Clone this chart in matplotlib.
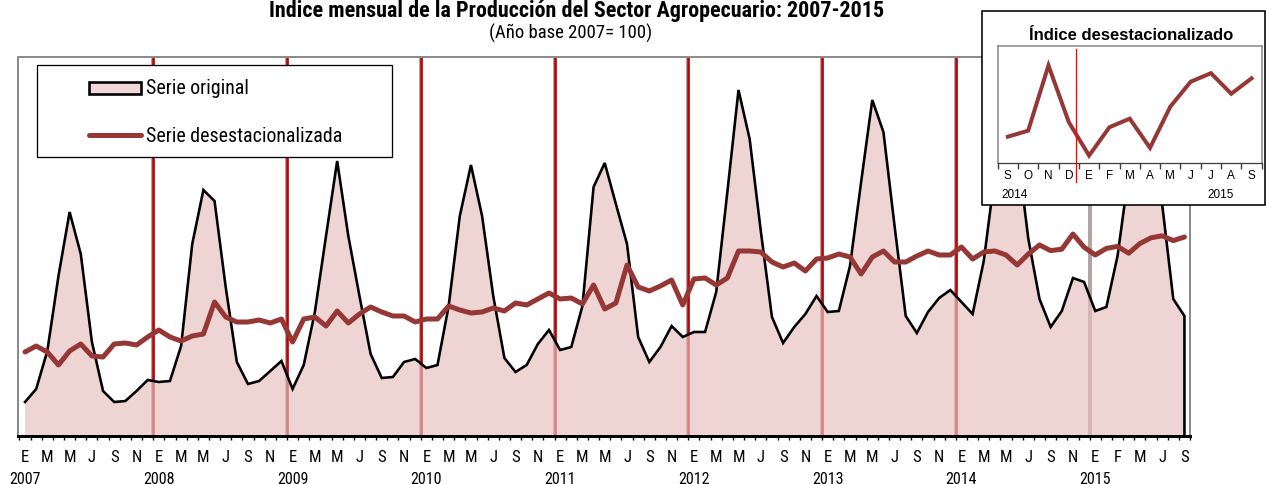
import matplotlib
matplotlib.use('Agg')
import matplotlib.pyplot as plt
from matplotlib.patches import Rectangle
from matplotlib.lines import Line2D
import matplotlib.transforms as mtransforms
import numpy as np

# ---------------- data ----------------
years = [2007, 2008, 2009, 2010, 2011, 2012, 2013, 2014, 2015]
month_labels_full = ['E', 'M', 'M', 'J', 'S', 'N']
month_labels_2015 = ['E', 'F', 'M', 'J', 'S']

# Serie original (Jan 2007 - Sep 2015)
original = [
    77.0, 83.5, 102.5, 140.0, 172.0, 151.0, 107.0, 82.5, 77.0, 77.5, 82.5, 88.0,      # 2007
    87.0, 87.5, 105.0, 156.0, 183.0, 177.5, 134.5, 97.0, 86.0, 87.5, 92.5, 97.5,      # 2008
    83.5, 95.5, 122.0, 160.0, 197.5, 160.0, 130.0, 101.0, 89.0, 89.5, 97.0, 98.5,     # 2009
    94.0, 95.5, 125.0, 170.0, 195.5, 170.0, 130.0, 99.0, 92.0, 95.5, 106.0, 113.0,    # 2010
    103.0, 104.5, 125.0, 184.5, 196.5, 176.0, 156.0, 109.5, 97.0, 104.5, 115.0, 109.5,  # 2011
    112.0, 112.0, 132.0, 182.0, 233.0, 208.5, 162.5, 119.5, 106.5, 114.5, 121.0, 130.0,  # 2012
    122.0, 122.5, 145.0, 187.0, 228.0, 212.0, 165.0, 120.0, 111.5, 122.0, 129.0, 133.0,  # 2013
    127.0, 121.0, 147.5, 191.0, 228.5, 203.5, 158.5, 128.5, 114.5, 122.5, 139.0, 137.0,  # 2014
    122.5, 124.5, 150.0, 191.0, 228.5, 213.5, 176.0, 128.5, 120.0,                     # 2015
]

# Serie desestacionalizada
deseasonalized = [
    102.0, 105.0, 102.0, 95.5, 102.5, 106.0, 100.0, 99.5, 106.0, 106.5, 105.5, 109.5,   # 2007
    113.0, 109.5, 107.5, 110.0, 111.0, 127.0, 119.5, 117.0, 117.0, 118.0, 116.5, 118.5, # 2008
    107.0, 118.5, 119.5, 115.0, 122.5, 116.5, 121.0, 124.5, 122.0, 120.0, 120.0, 117.0, # 2009
    118.5, 118.5, 125.0, 123.0, 121.5, 122.0, 124.0, 122.5, 126.5, 125.5, 128.5, 131.5, # 2010
    128.5, 129.0, 126.0, 135.5, 123.5, 126.5, 145.5, 134.5, 132.5, 135.0, 138.0, 125.5, # 2011
    138.5, 139.0, 135.5, 139.0, 152.5, 152.5, 152.0, 147.0, 144.5, 146.5, 142.5, 148.5, # 2012
    149.0, 151.0, 149.5, 141.0, 149.5, 152.5, 147.0, 147.0, 150.0, 152.5, 150.5, 150.5, # 2013
    154.5, 148.5, 152.0, 152.5, 150.5, 145.5, 151.0, 155.5, 152.7, 153.4, 161.0, 154.4, # 2014
    150.5, 153.8, 154.8, 151.4, 156.2, 159.1, 160.1, 157.7, 159.5,                      # 2015
]

inset_labels = ['S', 'O', 'N', 'D', 'E', 'F', 'M', 'A', 'M', 'J', 'J', 'A', 'S']
inset_years = ['2014', '2015']

# ---------------- style ----------------
W, H = 1267, 485
NARROW = ['Roboto Condensed', 'Archivo Narrow', 'Barlow Condensed', 'Liberation Sans', 'DejaVu Sans']
REG = ['Liberation Sans', 'DejaVu Sans']
DARKRED = '#953735'
FILL = (232 / 255, 192 / 255, 192 / 255)
PINK_SOLID = '#f0d6d6'

fig = plt.figure(figsize=(W / 100, H / 100), dpi=100)


def fx(x):
    return x / W


def fy(y):
    return 1 - y / H


def pt(px):
    return px * 72 / 100


# ---------------- main axes ----------------
ax = fig.add_axes([fx(18), fy(437), fx(1190) - fx(18), fy(58) - fy(437)])
n = len(original)
x = np.arange(n)
ybot = 60.0
ax.set_xlim(-0.63, 104.4)
ax.set_ylim(ybot, 249.5)

# year boundaries (gridlines + red marker lines)
bounds = np.arange(11.5, n, 12)
for k, b in enumerate(bounds):
    ax.axvline(b, color='#b0a4a4', lw=pt(4), zorder=1)
    if years[k + 1] != 2015:
        ax.axvline(b, color='#c00000', lw=pt(2.5), zorder=1.1)

ax.fill_between(x, original, ybot, facecolor=FILL, alpha=0.67, lw=0, zorder=2)
ax.plot(np.r_[x, x[-1]], np.r_[original, ybot], color='black', lw=pt(2.6),
        zorder=3, clip_on=False, solid_joinstyle='miter')
ax.plot(x, deseasonalized, color=DARKRED, lw=pt(5), zorder=4,
        solid_capstyle='round', solid_joinstyle='round')

for s in ['left', 'top', 'right']:
    ax.spines[s].set_color('#8c8c8c')
    ax.spines[s].set_linewidth(pt(2))
ax.spines['bottom'].set_color('black')
ax.spines['bottom'].set_linewidth(pt(3))
ax.set_yticks([])

# month labels
tick_pos = []
tick_lab = []
for yi, yr in enumerate(years):
    labs = month_labels_2015 if yr == 2015 else month_labels_full
    for mi, lab in enumerate(labs):
        tick_pos.append(yi * 12 + mi * 2)
        tick_lab.append(lab)
ax.set_xticks(tick_pos)
ax.set_xticklabels(tick_lab, fontfamily=NARROW, fontsize=12)
ax.tick_params(axis='x', which='major', length=0, pad=pt(13))
ax.set_xticks(np.arange(-0.5, n, 1), minor=True)
ax.tick_params(axis='x', which='minor', length=3, width=1, color='black', direction='out')

trans = mtransforms.blended_transform_factory(ax.transData, fig.transFigure)
for yi, yr in enumerate(years):
    ax.text(yi * 12, fy(480), str(yr), transform=trans, ha='center', va='center',
            fontfamily=NARROW, fontsize=11.5)

# ---------------- titles ----------------
fig.text(fx(577), fy(11), 'Indice mensual de la Producción del Sector Agropecuario: 2007-2015',
         ha='center', va='center', fontfamily=NARROW, fontweight='bold', fontsize=15.8)
fig.text(fx(571), fy(33), '(Año base 2007= 100)', ha='center', va='center',
         fontfamily=NARROW, fontsize=13.5)

# ---------------- legend ----------------
fig.patches.append(Rectangle((fx(37), fy(158)), fx(392) - fx(37), fy(66) - fy(158),
                             transform=fig.transFigure, facecolor='white', edgecolor='black',
                             lw=pt(1.3), zorder=5))
fig.patches.append(Rectangle((fx(89), fy(95)), fx(141) - fx(89), fy(83) - fy(95),
                             transform=fig.transFigure, facecolor=PINK_SOLID, edgecolor='black',
                             lw=pt(2.6), zorder=5.1))
fig.lines.append(Line2D([fx(89), fx(141)], [fy(136), fy(136)], transform=fig.transFigure,
                        color=DARKRED, lw=pt(5), solid_capstyle='round', zorder=5.1))
fig.text(fx(146), fy(89), 'Serie original', ha='left', va='center', fontfamily=NARROW,
         fontsize=14.3, zorder=5.2)
fig.text(fx(146), fy(136), 'Serie desestacionalizada', ha='left', va='center',
         fontfamily=NARROW, fontsize=14.3, zorder=5.2)

# ---------------- inset ----------------
fig.patches.append(Rectangle((fx(982), fy(206)), fx(1265) - fx(982), fy(12) - fy(206),
                             transform=fig.transFigure, facecolor='white', edgecolor='black',
                             lw=pt(1.6), zorder=5))
fig.text(fx(1131), fy(35), 'Índice desestacionalizado', ha='center', va='center',
         fontfamily=REG, fontweight='bold', fontsize=12, zorder=5.2)

axi = fig.add_axes([fx(997.7), fy(164.3), fx(1261.7) - fx(997.7), fy(46.7) - fy(164.3)],
                   zorder=6)
axi.patch.set_alpha(0)
inset_vals = deseasonalized[-13:]
xi = np.arange(len(inset_vals))
axi.plot(xi, inset_vals, color=DARKRED, lw=pt(4), solid_joinstyle='miter')
axi.set_xlim(-0.5, 12.5)
axi.set_ylim(149.6, 163.3)
for s in ['left', 'top', 'right']:
    axi.spines[s].set_color('#8c8c8c')
    axi.spines[s].set_linewidth(pt(1.6))
axi.spines['bottom'].set_color('#404040')
axi.spines['bottom'].set_linewidth(pt(1.3))
axi.set_yticks([])
axi.set_xticks(xi)
axi.set_xticklabels(inset_labels, fontfamily=REG, fontsize=8.5)
axi.tick_params(axis='x', which='major', length=0, pad=pt(6))
axi.set_xticks(np.arange(-0.5, 13, 1), minor=True)
axi.tick_params(axis='x', which='minor', length=4, width=1, color='#404040', direction='out')
axi.axvline(3.35, ymin=-0.159, ymax=0.972, color='red', lw=pt(1.3), clip_on=False)
fig.text(fx(1015), fy(195), inset_years[0], ha='center', va='center', fontfamily=REG,
         fontsize=8.5, zorder=5.2)
fig.text(fx(1221), fy(195), inset_years[1], ha='center', va='center', fontfamily=REG,
         fontsize=8.5, zorder=5.2)

fig.savefig('out.png', dpi=100)
